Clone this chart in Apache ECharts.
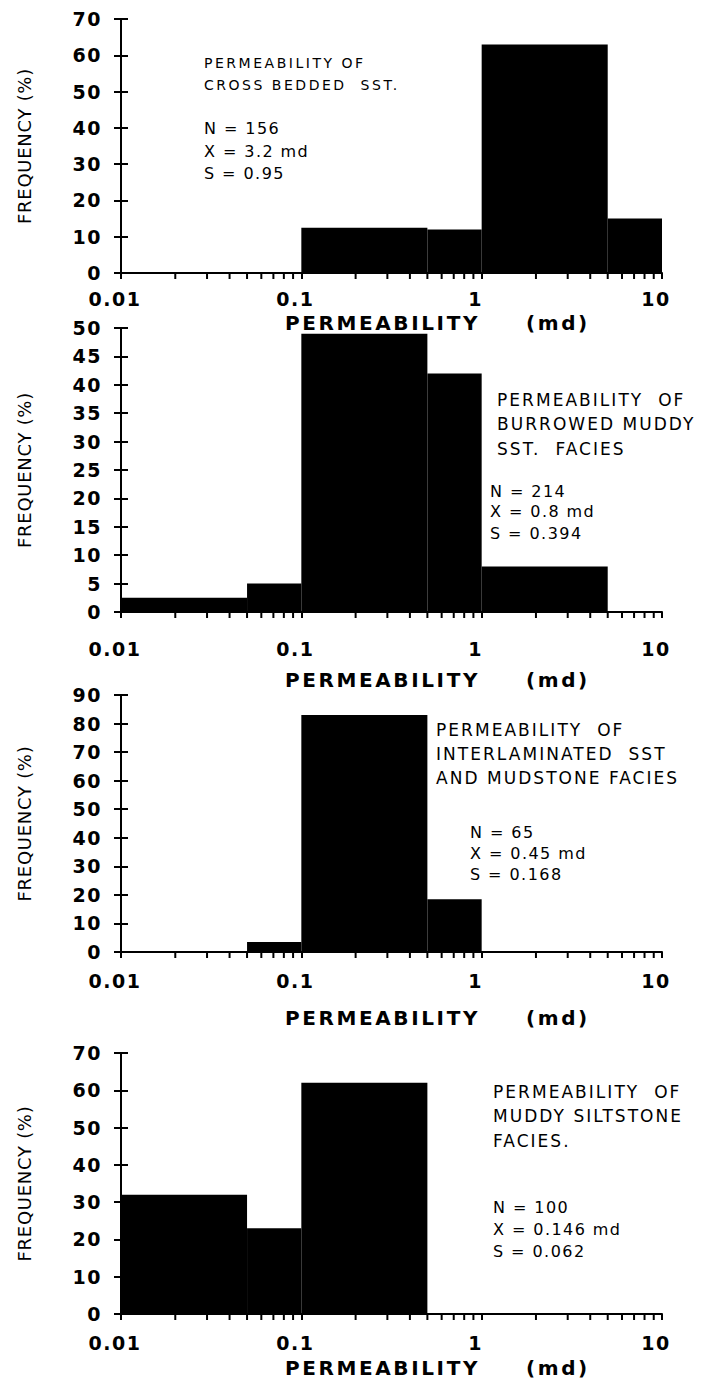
<!DOCTYPE html>
<html>
<head>
<meta charset="utf-8">
<script src="https://cdn.jsdelivr.net/npm/echarts@6/dist/echarts.min.js"></script>
<style>
  html, body { margin: 0; padding: 0; background: #fff; }
  #chart { width: 707px; height: 1388px; }
  #chart text { white-space: pre; }
  /* tracking per text role (each role uses its own font size) */
  #chart [style*="19px"] { letter-spacing: 0.08em; }  /* tick numbers */
  #chart [style*="20px"] { letter-spacing: 0.13em; }  /* axis title */
  #chart [style*="18px"] { letter-spacing: 0.04em; }  /* frequency axis name */
  #chart [style*="17px"] { letter-spacing: 0.12em; }  /* facies captions */
  #chart [style*="16px"] { letter-spacing: 0.09em; }  /* statistics */
  #chart [style*="14px"] { letter-spacing: 0.18em; }  /* small caption */
</style>
</head>
<body>
<div id="chart"></div>
<script>
// Permeability classes (md), shared by all four histograms
const binLow  = [0.01, 0.05, 0.1, 0.5, 1, 5];
const binHigh = [0.05, 0.1, 0.5, 1, 5, 10];

// Frequency (%) in each class, one array per facies
const freqCrossBedded    = [0, 0, 12.5, 12, 63, 15];
const freqBurrowed       = [2.5, 5, 49, 42, 8, 0];
const freqInterlaminated = [0, 3.5, 83, 18.5, 0, 0];
const freqSiltstone      = [32, 23, 62, 0, 0, 0];

// Axis scales and tick labels
const xTickLabels = ['0.01', '0.1', '1', '10'];
const yMaxValues  = [70, 50, 90, 70];
const yIntervals  = [10, 5, 10, 10];
const minorTickValues = [
  0.02, 0.03, 0.04, 0.05, 0.06, 0.07, 0.08, 0.09,
  0.2, 0.3, 0.4, 0.5, 0.6, 0.7, 0.8, 0.9,
  2, 3, 4, 5, 6, 7, 8, 9
];

// Facies captions and summary statistics
const faciesCaptions = [
  ['PERMEABILITY OF', 'CROSS BEDDED  SST.'],
  ['PERMEABILITY  OF', 'BURROWED MUDDY', 'SST.  FACIES'],
  ['PERMEABILITY  OF', 'INTERLAMINATED  SST', 'AND MUDSTONE FACIES'],
  ['PERMEABILITY  OF', 'MUDDY SILTSTONE', 'FACIES.']
];
const sampleCounts = ['156', '214', '65', '100'];
const meanValues   = ['3.2', '0.8', '0.45', '0.146'];
const stdValues    = ['0.95', '0.394', '0.168', '0.062'];

const frequencies = [freqCrossBedded, freqBurrowed, freqInterlaminated, freqSiltstone];

// ---- layout ----
const FONT = '"DejaVu Sans", "Open Sans", sans-serif';
const plotLeft = 121, plotWidth = 541;
const panels = [
  { top: 19,   height: 254, labelGap: 16, titleY: 323,
    cap: { x: 204, ys: [63, 85], size: 14 },           stat: { x: 204, ys: [128, 151, 173] } },
  { top: 328,  height: 284, labelGap: 27, titleY: 680,
    cap: { x: 497, ys: [400, 424, 449], size: 17 },    stat: { x: 490, ys: [491, 511, 533] } },
  { top: 695,  height: 257, labelGap: 19, titleY: 1018,
    cap: { x: 436, ys: [730, 754, 778], size: 17 },    stat: { x: 470, ys: [832, 853, 874] } },
  { top: 1053, height: 261, labelGap: 19, titleY: 1368,
    cap: { x: 493, ys: [1092, 1116, 1141], size: 17 }, stat: { x: 493, ys: [1207, 1229, 1251] } }
];

const grid = [], xAxis = [], yAxis = [], series = [], graphic = [];

function renderBar(params, api) {
  const topLeft = api.coord([api.value(0), api.value(2)]);
  const bottomRight = api.coord([api.value(1), 0]);
  return {
    type: 'rect',
    shape: { x: topLeft[0], y: topLeft[1], width: bottomRight[0] - topLeft[0], height: bottomRight[1] - topLeft[1] },
    style: { fill: '#000' }
  };
}

function renderMinorTick(params, api) {
  const p = api.coord([api.value(0), 0]);
  return {
    type: 'line',
    shape: { x1: p[0], y1: p[1], x2: p[0], y2: p[1] + 6 },
    style: { stroke: '#000', lineWidth: 2 }
  };
}

function textEl(x, y, text, size, weight) {
  return {
    type: 'text', x: x, y: y, silent: true,
    style: {
      text: text, fill: '#000', fontFamily: FONT, fontSize: size, fontWeight: weight || 'normal',
      textAlign: 'left', textVerticalAlign: 'middle', verticalAlign: 'middle'
    }
  };
}

panels.forEach(function (p, i) {
  grid.push({ left: plotLeft, width: plotWidth, top: p.top, height: p.height });

  xAxis.push({
    type: 'log', logBase: 10, min: 0.01, max: 10, gridIndex: i,
    axisLine: { lineStyle: { color: '#000', width: 2 } },
    axisTick: { show: true, inside: false, length: 6, lineStyle: { color: '#000', width: 2 } },
    splitLine: { show: false },
    axisLabel: {
      color: '#000', fontFamily: FONT, fontSize: 19, fontWeight: 'bold', margin: p.labelGap,
      padding: [0, 12, 0, 0],
      formatter: function (v) { return xTickLabels[Math.round(Math.log10(v)) + 2]; }
    }
  });

  const yBase = {
    type: 'value', min: 0, max: yMaxValues[i], interval: yIntervals[i], gridIndex: i,
    position: 'left', splitLine: { show: false }
  };
  yAxis.push(Object.assign({}, yBase, {
    name: 'FREQUENCY (%)', nameLocation: 'middle', nameGap: 88,
    nameTextStyle: { color: '#000', fontFamily: FONT, fontSize: 18, fontWeight: 'normal' },
    axisLine: { show: true, lineStyle: { color: '#000', width: 2 } },
    axisTick: { show: true, inside: false, length: 7, lineStyle: { color: '#000', width: 2 } },
    axisLabel: { color: '#000', fontFamily: FONT, fontSize: 19, fontWeight: 'bold', margin: 19 }
  }));
  // second copy of the frequency axis so the ticks cross the axis line
  yAxis.push(Object.assign({}, yBase, {
    axisLine: { show: false },
    axisTick: { show: true, inside: true, length: 7, lineStyle: { color: '#000', width: 2 } },
    axisLabel: { show: false }
  }));

  series.push({
    type: 'custom', xAxisIndex: i, yAxisIndex: 2 * i,
    renderItem: renderBar,
    encode: { x: [0, 1], y: 2 },
    data: binLow.map(function (lo, k) { return [lo, binHigh[k], frequencies[i][k]]; }),
    z: 3
  });
  series.push({
    type: 'custom', xAxisIndex: i, yAxisIndex: 2 * i, clip: false,
    renderItem: renderMinorTick,
    encode: { x: 0, y: 1 },
    data: minorTickValues.map(function (v) { return [v, 0]; }),
    z: 4
  });

  // axis title
  graphic.push(textEl(285, p.titleY, 'PERMEABILITY', 20, 'bold'));
  graphic.push(textEl(526, p.titleY, '(md)', 20, 'bold'));

  // facies caption
  faciesCaptions[i].forEach(function (line, k) {
    graphic.push(textEl(p.cap.x, p.cap.ys[k], line, p.cap.size, 'normal'));
  });
  // statistics
  const stats = ['N = ' + sampleCounts[i], 'X = ' + meanValues[i] + ' md', 'S = ' + stdValues[i]];
  stats.forEach(function (line, k) {
    graphic.push(textEl(p.stat.x, p.stat.ys[k], line, 16, 'normal'));
  });
});

const chart = echarts.init(document.getElementById('chart'), null, { renderer: 'svg' });
chart.setOption({
  animation: false,
  backgroundColor: '#fff',
  grid: grid,
  xAxis: xAxis,
  yAxis: yAxis,
  series: series,
  graphic: graphic
});
</script>
</body>
</html>
